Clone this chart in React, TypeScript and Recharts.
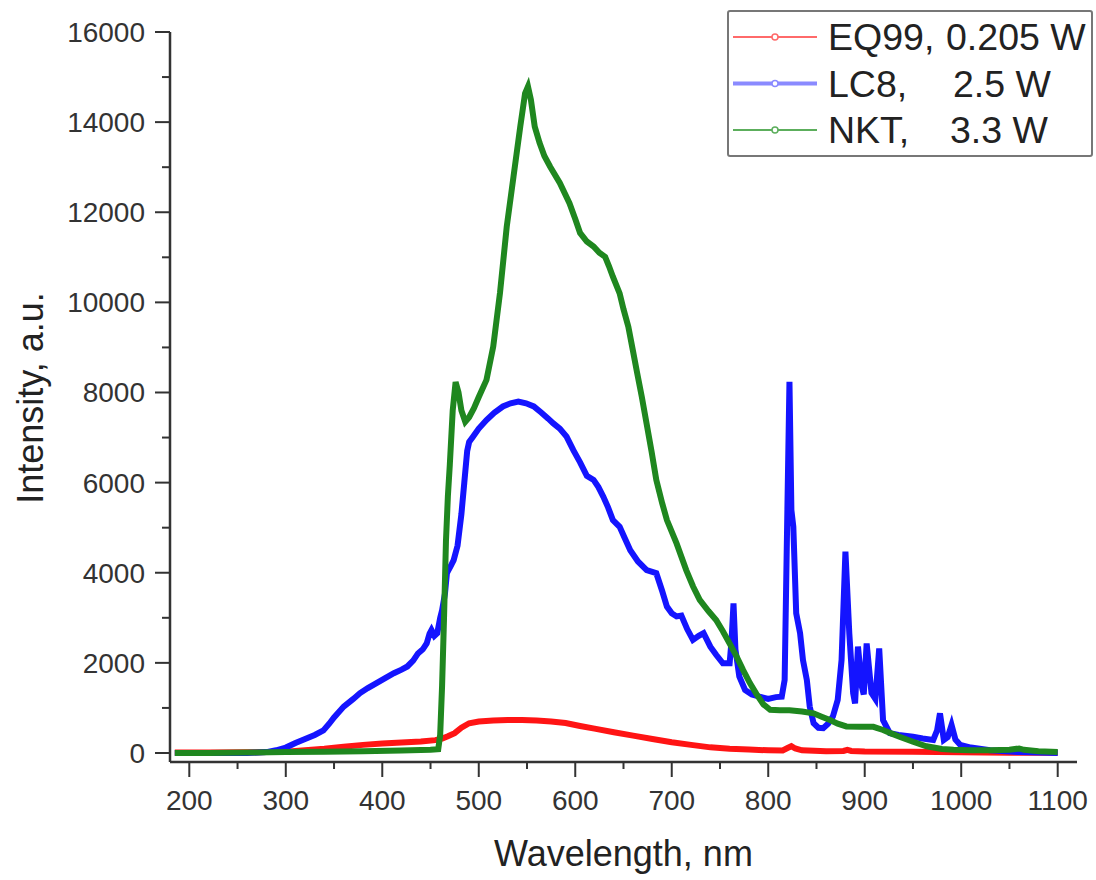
import React from 'react';
import { LineChart, Line, XAxis, YAxis, Legend, Label } from 'recharts';

// Spektren: Wellenlänge (nm) und Intensität (a.u.)
const eq99 = [
  [185, 10], [220, 10], [260, 15], [280, 20], [300, 30], [320, 60], [340, 95], [360, 140],
  [380, 180], [400, 210], [420, 235], [440, 255], [455, 285], [462, 320], [468, 370], [475, 440],
  [482, 560], [490, 660], [500, 700], [515, 720], [530, 730], [545, 730], [560, 720], [575, 700],
  [590, 665], [605, 600], [620, 540], [640, 460], [660, 385], [680, 310], [700, 240], [720, 180],
  [740, 125], [760, 95], [780, 75], [800, 60], [815, 55], [820, 110], [824, 150], [828, 100],
  [835, 60], [860, 40], [878, 45], [882, 70], [886, 45], [900, 35], [950, 25], [1000, 15],
  [1050, 8], [1100, 5],
];

const lc8 = [
  [185, 0], [220, 0], [260, 0], [280, 20], [290, 60], [300, 120], [310, 220], [320, 310],
  [330, 400], [339, 500], [345, 650], [350, 790], [360, 1030], [370, 1200], [377, 1330], [385, 1440],
  [394, 1550], [403, 1660], [412, 1770], [420, 1850], [426, 1920], [432, 2050], [437, 2210], [442, 2300],
  [446, 2430], [449, 2650], [451, 2730], [454, 2600], [457, 2660], [460, 3000], [462, 3170], [465, 3540],
  [467, 3990], [471, 4150], [474, 4280], [478, 4600], [482, 5300], [485, 6000], [488, 6700], [490, 6900],
  [494, 7020], [500, 7200], [508, 7390], [516, 7550], [525, 7690], [533, 7760], [541, 7800], [549, 7760],
  [557, 7690], [565, 7550], [572, 7420], [577, 7320], [584, 7200], [591, 7020], [598, 6720], [605, 6450],
  [612, 6150], [619, 6060], [624, 5900], [629, 5690], [634, 5450], [639, 5170], [646, 5020], [651, 4780],
  [657, 4500], [665, 4250], [674, 4060], [684, 3990], [690, 3600], [695, 3250], [700, 3100], [705, 3030],
  [710, 3050], [716, 2750], [722, 2510], [728, 2600], [733, 2660], [740, 2360], [746, 2180], [753, 1990],
  [760, 1990], [762, 2500], [764, 3320], [766, 2300], [770, 1700], [776, 1400], [783, 1300], [791, 1250],
  [800, 1200], [808, 1240], [814, 1250], [817, 1620], [819, 4280], [822, 8240], [824, 5390], [826, 5020],
  [829, 3100], [833, 2660], [836, 2060], [840, 1620], [843, 1030], [847, 660], [852, 560], [857, 550],
  [862, 650], [867, 810], [872, 1180], [876, 2060], [880, 4470], [884, 2660], [888, 1330], [890, 1100],
  [893, 2360], [897, 1470], [899, 1300], [902, 2430], [907, 1330], [911, 1200], [915, 2320], [919, 730],
  [926, 440], [935, 400], [950, 360], [960, 320], [971, 290], [975, 500], [978, 880], [982, 290],
  [986, 350], [990, 620], [994, 300], [999, 180], [1010, 120], [1030, 60], [1060, 20], [1100, 0],
];

const nkt = [
  [185, 0], [220, 0], [260, 10], [300, 20], [340, 30], [380, 40], [420, 55], [450, 70],
  [458, 85], [460, 400], [462, 1500], [464, 3000], [466, 4700], [468, 5700], [470, 6400], [473, 7600],
  [476, 8230], [479, 8000], [482, 7600], [486, 7350], [490, 7450], [495, 7650], [500, 7900], [508, 8280],
  [515, 9020], [522, 10210], [529, 11680], [536, 12790], [543, 13900], [548, 14640], [551, 14790], [554, 14500],
  [558, 13900], [563, 13540], [568, 13250], [574, 13010], [584, 12650], [594, 12200], [600, 11850], [605, 11540],
  [612, 11350], [619, 11240], [625, 11100], [631, 11010], [635, 10800], [639, 10570], [646, 10200], [650, 9850],
  [655, 9460], [660, 8900], [664, 8450], [669, 7900], [674, 7300], [679, 6700], [684, 6060], [690, 5550],
  [695, 5170], [705, 4650], [715, 4060], [722, 3700], [729, 3400], [738, 3150], [746, 2950], [753, 2700],
  [760, 2430], [767, 2150], [774, 1840], [781, 1550], [788, 1300], [795, 1080], [802, 960], [812, 950],
  [822, 950], [835, 920], [847, 880], [856, 800], [864, 730], [872, 650], [881, 590], [895, 580],
  [909, 580], [919, 510], [928, 430], [936, 360], [950, 250], [964, 150], [980, 90], [992, 70],
  [1010, 60], [1030, 60], [1050, 70], [1060, 100], [1065, 70], [1080, 40], [1100, 20],
];

const xTicks = [200, 250, 300, 350, 400, 450, 500, 550, 600, 650, 700, 750, 800, 850, 900, 950, 1000, 1050, 1100];
const yTicks = [0, 1000, 2000, 3000, 4000, 5000, 6000, 7000, 8000, 9000, 10000, 11000, 12000, 13000, 14000, 15000, 16000];

const legendRows = [
  { name: 'EQ99,', value: '0.205 W', color: '#ff6a6a', width: 2, valueX: 217 },
  { name: 'LC8,', value: '2.5 W', color: '#8a8aff', width: 4, valueX: 224 },
  { name: 'NKT,', value: '3.3 W', color: '#5cae5c', width: 2, valueX: 221 },
];

const toPoints = (arr: number[][]) => arr.map(([x, y]) => ({ x, y }));

const FONT = '"Liberation Sans", Arial, sans-serif';

// Achsenticks mit Haupt- und Nebenstrichen
const XTick = (props: any) => {
  const { x, y, payload } = props;
  const major = payload.value % 100 === 0;
  return (
    <g>
      <line x1={x} y1={y} x2={x} y2={y + (major ? 15 : 7)} stroke="#333" strokeWidth={2} />
      {major && (
        <text x={x} y={y + 48} textAnchor="middle" fontSize={28} fill="#333" fontFamily={FONT}>
          {payload.value}
        </text>
      )}
    </g>
  );
};

const YTick = (props: any) => {
  const { x, y, payload } = props;
  const major = payload.value % 2000 === 0;
  return (
    <g>
      <line x1={x - (major ? 15 : 8)} y1={y} x2={x} y2={y} stroke="#333" strokeWidth={2} />
      {major && (
        <text x={x - 25} y={y + 10} textAnchor="end" fontSize={28} fill="#333" fontFamily={FONT}>
          {payload.value}
        </text>
      )}
    </g>
  );
};

const LegendBox = () => (
  <div style={{ width: 366, height: 147, border: '2px solid #777', borderRadius: 3, boxSizing: 'border-box', background: '#fff' }}>
    <svg width={362} height={143}>
      {legendRows.map((r, i) => {
        const cy = 25 + i * 46.5;
        return (
          <g key={r.name}>
            <line x1={4} y1={cy} x2={88} y2={cy} stroke={r.color} strokeWidth={r.width} />
            <circle cx={46} cy={cy} r={3} fill="#fff" stroke={r.color} strokeWidth={1.5} />
            <text x={99} y={cy + 13} fontSize={37.5} fill="#222" fontFamily={FONT}>{r.name}</text>
            <text x={r.valueX} y={cy + 13} fontSize={37.5} fill="#222" fontFamily={FONT}>{r.value}</text>
          </g>
        );
      })}
    </svg>
  </div>
);

const SpectraChart: React.FC = () => (
  <div style={{ position: 'absolute', left: 0, top: 0, background: '#fff' }}>
    <LineChart width={1096} height={880} margin={{ top: 32, right: 19, left: 0, bottom: 0 }}>
      <XAxis
        type="number"
        dataKey="x"
        domain={[180, 1120]}
        ticks={xTicks}
        interval={0}
        tickSize={0}
        tickMargin={0}
        tickLine={false}
        tick={<XTick />}
        height={118}
        axisLine={{ stroke: '#333', strokeWidth: 2.5 }}
      >
        <Label value="Wavelength, nm" position="insideBottom" offset={14} fontSize={36} fill="#222" fontFamily={FONT} />
      </XAxis>
      <YAxis
        type="number"
        domain={[-200, 16000]}
        ticks={yTicks}
        interval={0}
        tickSize={0}
        tickMargin={0}
        tickLine={false}
        tick={<YTick />}
        width={170}
        axisLine={{ stroke: '#333', strokeWidth: 2.5 }}
      >
        <Label
          content={() => (
            <text transform="translate(43,398) rotate(-90)" textAnchor="middle" fontSize={36} fill="#222" fontFamily={FONT}>
              Intensity, a.u.
            </text>
          )}
        />
      </YAxis>
      <Legend
        layout="horizontal"
        verticalAlign="middle"
        align="center"
        wrapperStyle={{ left: 727, top: 10, width: 366, height: 147 }}
        content={() => <LegendBox />}
      />
      <Line data={toPoints(eq99)} dataKey="y" name="EQ99" type="linear" stroke="#ff1414" strokeWidth={6} dot={false} isAnimationActive={false} />
      <Line data={toPoints(lc8)} dataKey="y" name="LC8" type="linear" stroke="#1414ff" strokeWidth={6} dot={false} isAnimationActive={false} />
      <Line data={toPoints(nkt)} dataKey="y" name="NKT" type="linear" stroke="#1f871f" strokeWidth={6} dot={false} isAnimationActive={false} />
    </LineChart>
  </div>
);

export default SpectraChart;
